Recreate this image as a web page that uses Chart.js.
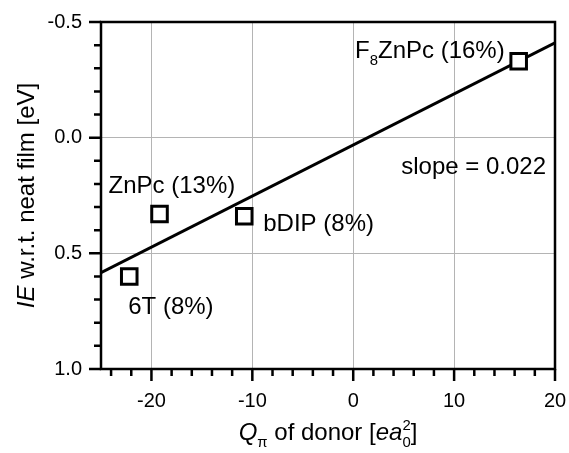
<!DOCTYPE html>
<html>
<head>
<meta charset="utf-8">
<script src="https://cdn.jsdelivr.net/npm/chart.js@4/dist/chart.umd.min.js"></script>
<style>
  html, body { margin: 0; padding: 0; background: #fff; }
  #wrap { width: 569px; height: 453px; }
</style>
</head>
<body>
<div id="wrap"><canvas id="chart" width="569" height="453"></canvas></div>
<script>
// Data
const donors = ['F8ZnPc', 'ZnPc', 'bDIP', '6T'];
const fractions = [16, 13, 8, 8];
const quadrupole = [16.4, -19.2, -10.8, -22.2];
const ieShift = [-0.33, 0.33, 0.34, 0.60];
const fitX = [-25, 20];
const fitY = [0.584, -0.41];
const xTicks = [-20, -10, 0, 10, 20];
const yTicks = [-0.5, 0.0, 0.5, 1.0];
const slopeLabel = 'slope = 0.022';

const FONT = '"Liberation Sans", Arial, sans-serif';

// label placement relative to each marker (pixels)
const labelPos = [
    { dx: -14, dy: -3, align: 'right' },
    { dx: -51, dy: -21, align: 'left' },
    { dx: 19, dy: 15, align: 'left' },
    { dx: -1, dy: 38, align: 'left' }
];

// split "F8ZnPc (16%)" into parts, digits after a letter become subscript
function labelParts(text) {
    const parts = [];
    const re = /([A-Za-z])(\d+)/g;
    let last = 0, m;
    while ((m = re.exec(text)) !== null) {
        parts.push({ text: text.slice(last, m.index + 1) });
        parts.push({ text: m[2], sub: true });
        last = m.index + m[0].length;
    }
    parts.push({ text: text.slice(last) });
    return parts;
}

function partFont(p, size) {
    const s = (p.sub || p.sup) ? size * 0.62 : size;
    return (p.italic ? 'italic ' : '') + s + 'px ' + FONT;
}

function partWidth(ctx, p, size) {
    ctx.font = partFont(p, size);
    let w = ctx.measureText(p.text).width;
    if (p.stack) w = Math.max(w, ctx.measureText(p.stack).width);
    return w;
}

function drawRich(ctx, parts, x, y, align, size) {
    let total = 0;
    parts.forEach(p => { total += partWidth(ctx, p, size); });
    let cx = align === 'right' ? x - total : align === 'center' ? x - total / 2 : x;
    ctx.textAlign = 'left';
    ctx.textBaseline = 'alphabetic';
    parts.forEach(p => {
        const w = partWidth(ctx, p, size);
        ctx.font = partFont(p, size);
        let dy = 0;
        if (p.sub) dy = size * 0.28;
        if (p.sup) dy = -size * 0.4;
        ctx.fillText(p.text, cx, y + dy);
        if (p.stack) ctx.fillText(p.stack, cx, y - size * 0.4);
        cx += w;
    });
}

const decorPlugin = {
    id: 'decor',
    afterDraw(chart) {
        const ctx = chart.ctx;
        const area = chart.chartArea;
        const xs = chart.scales.x;
        const ys = chart.scales.y;
        ctx.save();
        ctx.strokeStyle = '#000';
        ctx.fillStyle = '#000';
        ctx.lineWidth = 2.5;

        // frame
        ctx.strokeRect(area.left, area.top, area.right - area.left, area.bottom - area.top);

        // x ticks, minor every 2
        ctx.beginPath();
        for (let v = -24; v <= 20; v += 2) {
            const px = xs.getPixelForValue(v);
            const len = xTicks.includes(v) ? 12 : 7;
            ctx.moveTo(px, area.bottom);
            ctx.lineTo(px, area.bottom + len);
        }
        // y ticks, minor every 0.1
        for (let i = 0; i <= 15; i++) {
            const v = -0.5 + i * 0.1;
            const py = ys.getPixelForValue(v);
            const len = (i % 5 === 0) ? 12 : 7;
            ctx.moveTo(area.left, py);
            ctx.lineTo(area.left - len, py);
        }
        ctx.stroke();

        // marker labels
        donors.forEach((name, i) => {
            const px = xs.getPixelForValue(quadrupole[i]);
            const py = ys.getPixelForValue(ieShift[i]);
            const pos = labelPos[i];
            drawRich(ctx, labelParts(name + ' (' + fractions[i] + '%)'),
                px + pos.dx, py + pos.dy, pos.align, 24);
        });

        // slope annotation
        drawRich(ctx, [{ text: slopeLabel }], area.right - 9,
            ys.getPixelForValue(0.156), 'right', 24);

        // axis titles
        drawRich(ctx, [
            { text: 'Q', italic: true },
            { text: 'π', sub: true },
            { text: ' of donor [' },
            { text: 'ea', italic: true },
            { text: '0', sub: true, stack: '2' },
            { text: ']' }
        ], (area.left + area.right) / 2, 440, 'center', 24);

        ctx.translate(34, (area.top + area.bottom) / 2);
        ctx.rotate(-Math.PI / 2);
        drawRich(ctx, [
            { text: 'IE', italic: true },
            { text: ' w.r.t. neat film [eV]' }
        ], 0, 0, 'center', 24);
        ctx.restore();
    }
};

function gridColor(edgeValues) {
    return function(c) {
        const v = c.tick ? c.tick.value : null;
        if (v === null || edgeValues.includes(v)) return 'rgba(0,0,0,0)';
        return '#b4b4b4';
    };
}

new Chart(document.getElementById('chart'), {
    type: 'scatter',
    data: {
        datasets: [
            {
                label: 'donors',
                data: quadrupole.map((q, i) => ({ x: q, y: ieShift[i] })),
                pointStyle: 'rect',
                pointRadius: 11,
                borderWidth: 3,
                borderColor: '#000',
                backgroundColor: '#fff',
                order: 0
            },
            {
                label: 'fit',
                data: fitX.map((x, i) => ({ x: x, y: fitY[i] })),
                showLine: true,
                pointRadius: 0,
                borderWidth: 3,
                borderColor: '#000',
                order: 1
            }
        ]
    },
    options: {
        responsive: false,
        devicePixelRatio: 1,
        animation: false,
        layout: { padding: { top: 22, right: 13, left: 0, bottom: 0 } },
        plugins: {
            legend: { display: false },
            tooltip: { enabled: false }
        },
        scales: {
            x: {
                type: 'linear',
                min: -25,
                max: 20,
                afterBuildTicks: s => { s.ticks = xTicks.map(v => ({ value: v })); },
                afterFit: s => {
                    s.height = 84;
                    s.paddingLeft = 0;
                    s.paddingRight = 0;
                },
                grid: { color: gridColor([20]), lineWidth: 1, drawTicks: false },
                border: { display: false },
                ticks: {
                    color: '#000',
                    padding: 20,
                    font: { family: FONT, size: 20 },
                    callback: v => String(v)
                }
            },
            y: {
                type: 'linear',
                reverse: true,
                min: -0.5,
                max: 1.0,
                afterBuildTicks: s => { s.ticks = yTicks.map(v => ({ value: v })); },
                afterFit: s => {
                    s.width = 101;
                    s.paddingTop = 0;
                    s.paddingBottom = 0;
                },
                grid: { color: gridColor([-0.5, 1.0]), lineWidth: 1, drawTicks: false },
                border: { display: false },
                ticks: {
                    color: '#000',
                    padding: 19,
                    font: { family: FONT, size: 20 },
                    callback: v => v.toFixed(1)
                }
            }
        }
    },
    plugins: [decorPlugin]
});
</script>
</body>
</html>
